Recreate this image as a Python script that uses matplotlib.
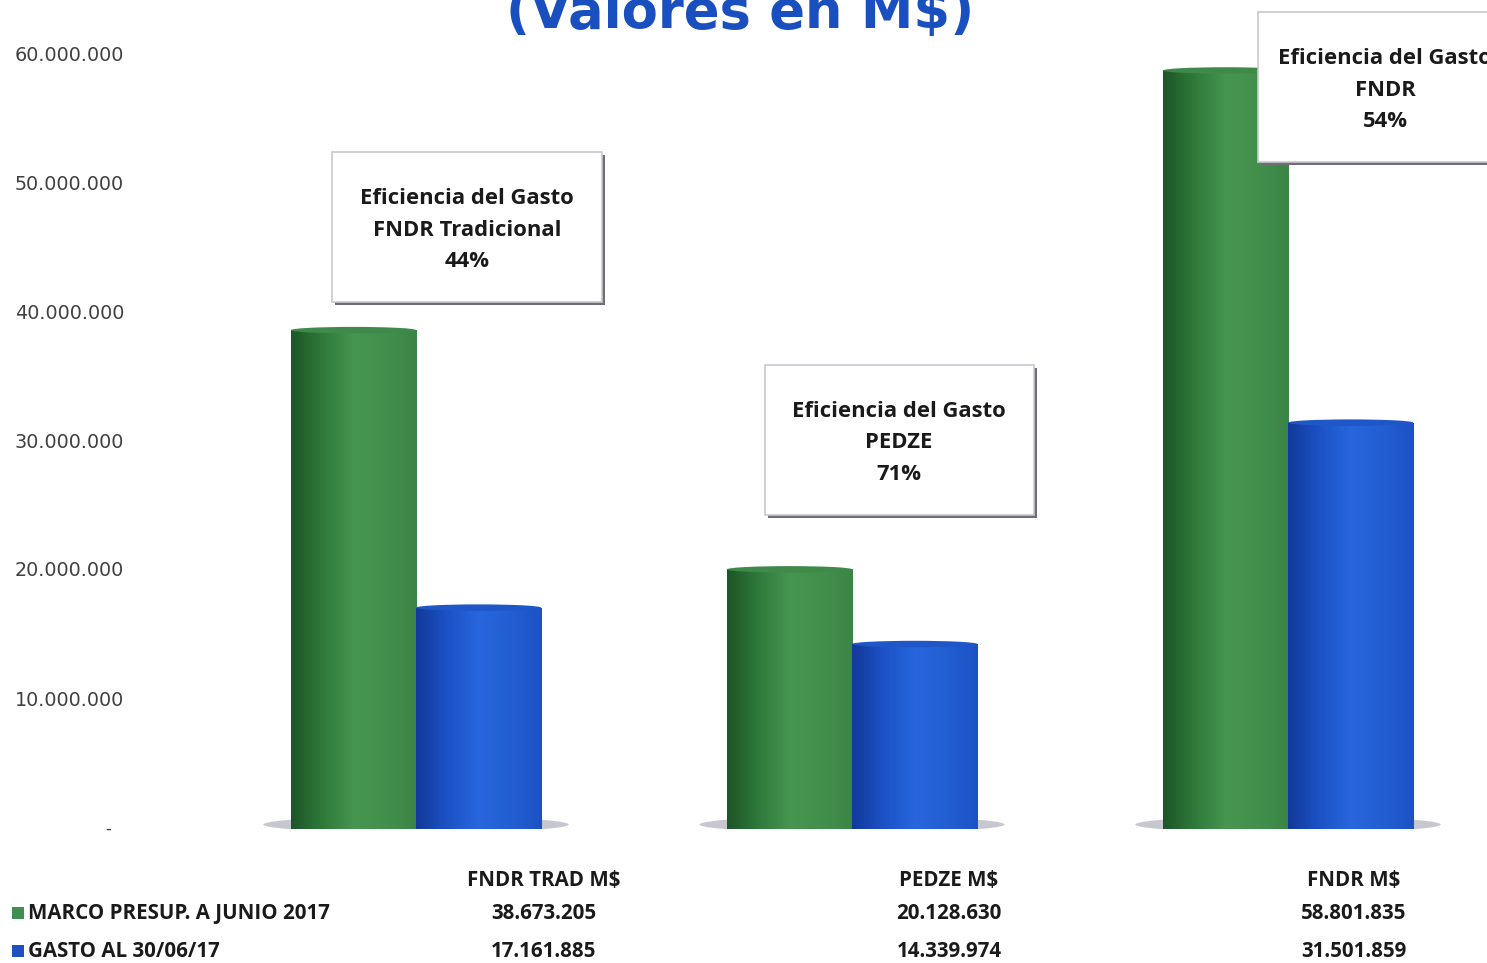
import matplotlib
matplotlib.use("Agg")
from matplotlib import pyplot as plt
from matplotlib import patches as mpatches
from matplotlib import transforms as mtransforms
from matplotlib.colors import LinearSegmentedColormap
import numpy as np

# Data
categories = ["FNDR TRAD M$", "PEDZE M$", "FNDR M$"]
marco = [38673205, 20128630, 58801835]
gasto = [17161885, 14339974, 31501859]
series_names = ["MARCO PRESUP. A JUNIO 2017", "GASTO AL 30/06/17"]
eficiencia = ["Eficiencia del Gasto\nFNDR Tradicional\n44%",
              "Eficiencia del Gasto\nPEDZE\n71%",
              "Eficiencia del Gasto\nFNDR\n54%"]
yticks = [10e6, 20e6, 30e6, 40e6, 50e6, 60e6]

W, H = 1487, 963
fig = plt.figure(figsize=(W / 100, H / 100), dpi=100)
fig.patch.set_facecolor("white")
FONT = "Open Sans"

def fx(px):
    return px / W

def fy(py):
    return 1 - py / H

# Axes: zero at y=829 px, 12.9 px per million
ax = fig.add_axes([fx(130), fy(829), fx(W - 130), 829 / H])
ax.set_xlim(-0.656, -0.656 + (W - 130) / 436)
ax.set_ylim(0, 829 / 12.9 * 1e6)
for s in ax.spines.values():
    s.set_visible(False)
ax.set_xticks([])
ax.set_yticks(yticks)
ax.tick_params(axis="y", length=0, labelleft=False)

# y labels, left aligned like the original
trans = mtransforms.blended_transform_factory(ax.transAxes, ax.transData)
for v in yticks:
    ax.text(-115 / (W - 130), v, f"{int(v):,}".replace(",", "."), fontsize=13.8,
            color="#404040", family="DejaVu Sans", ha="left", va="center",
            transform=trans, clip_on=False)
ax.text(-22 / (W - 130), 0, "-", fontsize=12, color="#404040", ha="center", va="center",
        transform=trans, clip_on=False)

green_cm = LinearSegmentedColormap.from_list("g", ["#1d5527", "#2f7a3b", "#469550", "#43904d", "#3b8546"])
blue_cm = LinearSegmentedColormap.from_list("b", ["#12399a", "#1c52c6", "#2866de", "#235fd2", "#1c52c4"])

x = np.arange(len(categories))
bw = 0.287
grad = np.linspace(0, 1, 256).reshape(1, -1)

for i in x:
    shadow = mpatches.Ellipse((i + 0.0, 0.35e6), 0.70, 1.3e6, facecolor="#9a9aa8",
                              edgecolor="none", alpha=0.55, zorder=1)
    ax.add_patch(shadow)

for vals, off, cm, top in [(marco, -bw / 2, green_cm, "#3f8a4a"), (gasto, bw / 2, blue_cm, "#1f56c8")]:
    bars = ax.bar(x + off, vals, width=bw, color=top, zorder=2)
    for b in bars:
        x0, y0 = b.get_x(), b.get_y()
        im = ax.imshow(grad, cmap=cm, aspect="auto", zorder=3,
                       extent=[x0, x0 + b.get_width(), y0, y0 + b.get_height()])
        im.set_clip_path(b)
        cap = mpatches.Ellipse((x0 + b.get_width() / 2, b.get_height()), b.get_width(), 0.5e6,
                               facecolor=top, edgecolor="none", zorder=4)
        ax.add_patch(cap)

# Title (partly cut at top)
fig.text(fx(740), fy(28), "(Valores en M$)", fontsize=38, fontweight="bold",
         color="#1a4fbf", ha="center", va="baseline", family="DejaVu Sans")

# Annotation boxes
boxes = [(332, 152, 270, 150, 467), (765, 365, 269, 150, 899), (1258, 12, 280, 150, 1385)]
for (bx, by, bwid, bh, tx), txt in zip(boxes, eficiencia):
    sh = mpatches.Rectangle((fx(bx + 3), fy(by + bh + 3)), fx(bwid), bh / H,
                            transform=fig.transFigure, facecolor="#6e6e78", edgecolor="none", zorder=5)
    fig.add_artist(sh)
    r = mpatches.Rectangle((fx(bx), fy(by + bh)), fx(bwid), bh / H,
                           transform=fig.transFigure, facecolor="white", edgecolor="#c8c8d0",
                           linewidth=1.2, zorder=6)
    fig.add_artist(r)
    fig.text(fx(tx), fy(by + bh / 2 + 3), txt, fontsize=15.8, fontweight="bold", family=FONT,
             color="#1a1a1a", ha="center", va="center", linespacing=1.66, zorder=7)

# Data table
col_x = [544, 949, 1354]
for cx, cat, m, g in zip(col_x, categories, marco, gasto):
    for py, s in [(880, cat), (913, f"{m:,}".replace(",", ".")), (951, f"{g:,}".replace(",", "."))]:
        fig.text(fx(cx), fy(py), s, fontsize=14.8, fontweight="bold", family=FONT,
                 color="#1a1a1a", ha="center", va="center")

for py, name, col in [(913, series_names[0], "#3f8f4f"), (951, series_names[1], "#1f4fc0")]:
    fig.add_artist(mpatches.Rectangle((fx(12), fy(py + 6)), fx(12), 12 / H,
                                      transform=fig.transFigure, facecolor=col, edgecolor="none"))
    fig.text(fx(28), fy(py), name, fontsize=14.8, fontweight="bold", family=FONT,
             color="#1a1a1a", ha="left", va="center")

fig.savefig("out.png", dpi=100)
